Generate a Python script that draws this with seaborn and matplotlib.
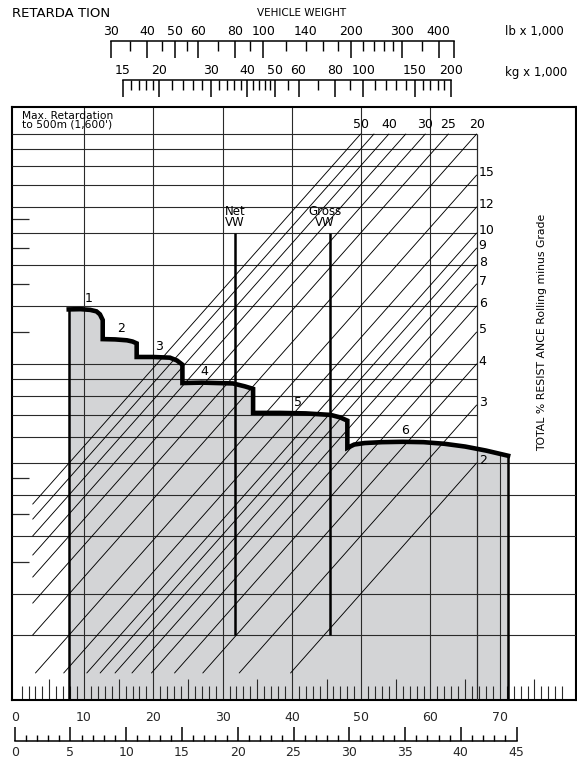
import numpy as np
import pandas as pd
import matplotlib
matplotlib.use("Agg")
import matplotlib.pyplot as plt
from matplotlib.ticker import FixedLocator, NullLocator, NullFormatter
import seaborn as sns

# ------------------------------------------------------------------ data
# retarder curve, one array pair per gear: speed (km/h) and retarding force (chart units)
gear1_speed = [7.8, 9.5, 10.9, 11.8, 12.3, 12.7]
gear1_force = [29.3, 29.35, 29.2, 28.9, 28.3, 27.2]
gear2_speed = [12.7, 14.5, 16.2, 17.0, 17.6]
gear2_force = [23.8, 23.75, 23.6, 23.4, 23.1]
gear3_speed = [17.6, 20.0, 22.4, 23.4, 24.2]
gear3_force = [21.0, 21.0, 20.9, 20.5, 19.9]
gear4_speed = [24.2, 27.0, 31.5, 33.2, 34.4]
gear4_force = [17.5, 17.55, 17.45, 17.1, 16.8]
gear5_speed = [34.4, 38.3, 42.0, 45.6, 47.0, 48.0]
gear5_force = [14.2, 14.2, 14.15, 14.0, 13.75, 13.45]
gear6_speed = [48.0, 49.0, 50.5, 53.0, 56.0, 59.0, 62.0, 65.0, 68.0, 71.2]
gear6_force = [11.12, 11.38, 11.50, 11.57, 11.60, 11.57, 11.44, 11.22, 10.91, 10.52]
gear_labels = ["1", "2", "3", "4", "5", "6"]
gear_label_speed = [10.6, 15.3, 20.8, 27.3, 40.9, 56.3]

# total resistance (%) diagonals and their printed labels
grade_pct = [50, 45, 40, 35, 30, 25, 20, 15, 12, 10, 9, 8, 7, 6, 5, 4, 3, 2]
grade_text = ["50", "", "40", "", "30", "25", "20", "15", "12", "10",
              "9", "8", "7", "6", "5", "4", "3", "2"]

# horizontal force grid
force_lines_panel = [100, 90, 80, 70, 60, 50, 40, 30, 20, 18, 16, 14, 12]
force_lines_full = [10, 8, 6, 4, 3]
force_ticks_left = [55, 45, 35, 25, 9, 7, 5]

# speed scales
speed_grid = [10, 20, 30, 40, 50, 60]
speed_grid_shaded = [70]
kmh_labels = [0, 10, 20, 30, 40, 50, 60, 70]
kmh_ticks_long = [5, 15, 25, 35, 45, 55, 65, 75]
kmh_ticks_short = [v for v in range(1, 81) if v % 5 != 0]
mph_major = [0, 5, 10, 15, 20, 25, 30, 35, 40, 45]
mph_minor = [v for v in range(0, 46) if v % 5 != 0]

# vehicle weight scales
lb_long = [30, 40, 50, 60, 80, 100, 200, 300, 400, 450]
lb_short = [35, 45, 55, 70, 90, 120, 140, 160, 180, 220, 240, 260, 280, 350]
lb_labels = [30, 40, 50, 60, 80, 100, 140, 200, 300, 400]
kg_long = [15, 20, 30, 40, 50, 60, 80, 100, 150, 200]
kg_short = [16, 17, 18, 19, 22, 24, 26, 28, 32, 34, 36, 38, 42, 44, 46, 48,
            55, 70, 90, 110, 120, 130, 140, 160, 170, 180, 190]
kg_labels = [15, 20, 30, 40, 50, 60, 80, 100, 150, 200]

# example vehicle weights (lb x 1,000)
vw_names = ["Net\nVW", "Gross\nVW"]
vw_weight = [80, 170]
vw_force_range = [3, 50]

# ------------------------------------------------------------------ style
sns.set_theme(style="white")
plt.rcParams["font.family"] = ["Liberation Sans Narrow", "DejaVu Sans"]
INK = "black"
GRID = "#2a2a2a"
SHADE = "#d3d4d6"

W_PX, H_PX = 577, 764
fig = plt.figure(figsize=(W_PX / 100, H_PX / 100), dpi=100)
fig.patch.set_facecolor("white")


def rect(x0, y0, x1, y1):
    return [x0 / W_PX, 1 - y1 / H_PX, (x1 - x0) / W_PX, (y1 - y0) / H_PX]


# calibration of the printed scales on the sheet
KMH_X0, KMH_PX = 14.7, 6.93
LB_X30, LB_DEC = 110.7, 291.5
F_Y100, F_DEC = 134.0, 329.0
LB_PER_KG = 2.20462
KMH_PER_MPH = 1.609344
BOX = (12, 107, 576, 700)
GRADE_W_LEFT, GRADE_W_RIGHT = 16.2, 540.0
GRADE_F_BOTTOM, GRADE_F_TOP = 2.3, 100.0
GRADE_CORNER = 20.0


def speed_of(x):
    return (x - KMH_X0) / KMH_PX


def x_of_speed(v):
    return KMH_X0 + KMH_PX * v


def lb_of(x):
    return 30 * 10 ** ((x - LB_X30) / LB_DEC)


def x_of_lb(w):
    return LB_X30 + LB_DEC * np.log10(w / 30)


def force_of(y):
    return 100 * 10 ** (-(y - F_Y100) / F_DEC)


y_lo, y_hi = force_of(BOX[3]), force_of(BOX[1])
x_lo, x_hi = speed_of(BOX[0]), speed_of(BOX[2])
w_lo, w_hi = lb_of(BOX[0]), lb_of(BOX[2])

curve = pd.concat(
    [pd.DataFrame({"speed": s, "force": f, "gear": g}) for s, f, g in zip(
        [gear1_speed, gear2_speed, gear3_speed, gear4_speed, gear5_speed, gear6_speed],
        [gear1_force, gear2_force, gear3_force, gear4_force, gear5_force, gear6_force],
        gear_labels)],
    ignore_index=True)

# ------------------------------------------------------------------ base axes (speed)
ax = fig.add_axes(rect(*BOX))
ax.set_zorder(0)
ax.set_facecolor("white")
ax.set_yscale("log")
ax.fill_between(curve["speed"], y_lo, curve["force"], color=SHADE, lw=0, zorder=0.5)
ax.vlines(speed_grid, y_lo, y_hi, colors=GRID, lw=0.8, zorder=1)
ax.vlines(speed_grid_shaded, y_lo,
          np.interp(speed_grid_shaded, curve["speed"], curve["force"]),
          colors=GRID, lw=0.8, zorder=1)

ax.xaxis.set_major_locator(FixedLocator(kmh_ticks_long))
ax.xaxis.set_minor_locator(FixedLocator(kmh_ticks_short))
ax.xaxis.set_major_formatter(NullFormatter())
ax.xaxis.set_minor_formatter(NullFormatter())
ax.tick_params(axis="x", which="major", direction="in", length=15, width=0.8,
               color=GRID, bottom=True, top=False, labelbottom=False)
ax.tick_params(axis="x", which="minor", direction="in", length=10, width=0.8,
               color=GRID, bottom=True, top=False)
ax.yaxis.set_major_locator(FixedLocator(force_ticks_left))
ax.yaxis.set_minor_locator(NullLocator())
ax.yaxis.set_major_formatter(NullFormatter())
ax.tick_params(axis="y", which="major", direction="in", length=12.5, width=0.9,
               color=GRID, left=True, right=False, labelleft=False)
for sp in ax.spines.values():
    sp.set_visible(True)
    sp.set_linewidth(1.5)
    sp.set_color(INK)

sec = ax.secondary_xaxis("bottom")
sec.set_xticks(kmh_labels)
sec.set_xticklabels([str(v) for v in kmh_labels])
sec.tick_params(length=0, pad=8.0, labelsize=9, bottom=True)
sec.spines["bottom"].set_visible(False)

ax.text((22 - BOX[0]) / (BOX[2] - BOX[0]), 1 - (111 - BOX[1]) / (BOX[3] - BOX[1]),
        "Max. Retardation\nto 500m (1,600')", transform=ax.transAxes,
        ha="left", va="top", fontsize=7.7, linespacing=0.8, color=INK)
ax.text((542 - BOX[0]) / (BOX[2] - BOX[0]), 1 - (332 - BOX[1]) / (BOX[3] - BOX[1]),
        "TOTAL % RESIST ANCE Rolling minus Grade", transform=ax.transAxes,
        rotation=90, ha="center", va="center", fontsize=7.8, color=INK)

# ------------------------------------------------------------------ weight / grade overlay
axd = fig.add_axes(rect(*BOX), sharey=ax)
axd.set_zorder(1)
axd.patch.set_visible(False)
axd.set_xscale("log")
axd.axis("off")

axd.hlines(force_lines_panel, w_lo, GRADE_W_RIGHT, colors=GRID, lw=0.8)
axd.hlines(force_lines_full, w_lo, w_hi, colors=GRID, lw=0.8)
axd.vlines([GRADE_W_RIGHT], y_lo, GRADE_F_TOP, colors=GRID, lw=0.9)


def grade_force(w, r):
    return GRADE_F_TOP * (w / GRADE_W_RIGHT) * (r / GRADE_CORNER)


for r, txt in zip(grade_pct, grade_text):
    w_a = max(GRADE_W_LEFT, GRADE_W_RIGHT * (GRADE_F_BOTTOM / GRADE_F_TOP) * (GRADE_CORNER / r))
    w_b = min(GRADE_W_RIGHT, GRADE_W_RIGHT * (GRADE_CORNER / r))
    axd.plot([w_a, w_b], [grade_force(w_a, r), grade_force(w_b, r)], color=INK, lw=0.65)
    if not txt:
        continue
    if r < GRADE_CORNER:
        axd.annotate(txt, (w_b, grade_force(w_b, r)), xytext=(1.5, 2), textcoords="offset points",
                     ha="left", va="center", fontsize=9, color=INK)
    else:
        axd.annotate(txt, (w_b, GRADE_F_TOP), xytext=(0, 2), textcoords="offset points",
                     ha="center", va="bottom", fontsize=9, color=INK)

for name, w, dx in zip(vw_names, vw_weight, [0, -4]):
    axd.vlines([w], vw_force_range[0], vw_force_range[1], colors=INK, lw=1.8)
    axd.annotate(name, (w, vw_force_range[1]), xytext=(dx, 3), textcoords="offset points",
                 ha="center", va="bottom", fontsize=8.5, linespacing=0.8, color=INK)

# ------------------------------------------------------------------ curve overlay
axc = fig.add_axes(rect(*BOX), sharex=ax, sharey=ax)
axc.set_zorder(2)
axc.patch.set_visible(False)
sns.lineplot(data=curve, x="speed", y="force", sort=False, estimator=None,
             color=INK, lw=3.3, ax=axc, legend=False)
for ln in axc.lines:
    ln.set_solid_joinstyle("miter")
    ln.set_solid_capstyle("projecting")
v0, v1 = curve["speed"].iloc[0], curve["speed"].iloc[-1]
f0, f1 = curve["force"].iloc[0], curve["force"].iloc[-1]
axc.vlines([v0], y_lo, f0, colors=INK, lw=1.8)
axc.vlines([v1], y_lo, f1, colors=INK, lw=1.8)
for g, s in zip(gear_labels, gear_label_speed):
    axc.annotate(g, (s, np.interp(s, curve["speed"], curve["force"])), xytext=(0, 8),
                 textcoords="offset points", ha="center", va="center", fontsize=9, color=INK)
axc.axis("off")

ax.set_xlim(x_lo, x_hi)
ax.set_ylim(y_lo, y_hi)
axd.set_xlim(w_lo, w_hi)

# ------------------------------------------------------------------ rulers
def top_ruler(a, lo, hi, long_t, short_t, labels):
    a.set_xscale("log")
    a.set_xlim(lo, hi)
    a.set_ylim(0, 1)
    a.patch.set_visible(False)
    for k, sp in a.spines.items():
        sp.set_visible(k == "top")
    a.spines["top"].set_linewidth(1.1)
    a.spines["top"].set_color(INK)
    a.xaxis.set_ticks_position("top")
    a.xaxis.set_major_locator(FixedLocator(long_t))
    a.xaxis.set_minor_locator(FixedLocator(short_t))
    a.xaxis.set_major_formatter(NullFormatter())
    a.xaxis.set_minor_formatter(NullFormatter())
    a.tick_params(axis="x", which="major", direction="in", length=12, width=1.1,
                  color=INK, top=True, bottom=False, labeltop=False, labelbottom=False)
    a.tick_params(axis="x", which="minor", direction="in", length=7, width=1.0,
                  color=INK, top=True, bottom=False)
    a.set_yticks([])
    for v in labels:
        a.annotate(str(v), (v, 1), xycoords=a.get_xaxis_transform(), xytext=(0, 2.5),
                   textcoords="offset points", ha="center", va="bottom", fontsize=9, color=INK)


ax_lb = fig.add_axes(rect(x_of_lb(30), 41, x_of_lb(450), 59))
top_ruler(ax_lb, 30, 450, lb_long, lb_short, lb_labels)
ax_kg = fig.add_axes(rect(x_of_lb(15 * LB_PER_KG), 80, x_of_lb(200 * LB_PER_KG), 98))
top_ruler(ax_kg, 15, 200, kg_long, kg_short, kg_labels)

ax_mph = fig.add_axes(rect(x_of_speed(0), 726, x_of_speed(45 * KMH_PER_MPH), 740.5))
ax_mph.set_xlim(0, 45)
ax_mph.set_ylim(0, 1)
ax_mph.patch.set_visible(False)
for k, sp in ax_mph.spines.items():
    sp.set_visible(k == "bottom")
ax_mph.spines["bottom"].set_linewidth(1.1)
ax_mph.spines["bottom"].set_color(INK)
ax_mph.xaxis.set_major_locator(FixedLocator(mph_major))
ax_mph.xaxis.set_minor_locator(FixedLocator(mph_minor))
ax_mph.set_xticklabels([str(v) for v in mph_major])
ax_mph.tick_params(axis="x", which="major", direction="in", length=10, width=1.1, color=INK,
                   bottom=True, top=False, labelbottom=True, labelsize=9, pad=4)
ax_mph.tick_params(axis="x", which="minor", direction="in", length=4, width=1.0, color=INK,
                   bottom=True, top=False)
ax_mph.set_yticks([])

# ------------------------------------------------------------------ titles
fig.text(12 / W_PX, 1 - 13.5 / H_PX, "RETARDA TION", ha="left", va="center", fontsize=9.5, color=INK)
fig.text(302 / W_PX, 1 - 12.7 / H_PX, "VEHICLE WEIGHT", ha="center", va="center", fontsize=7.5, color=INK)
fig.text(505 / W_PX, 1 - 31.7 / H_PX, "lb x 1,000", ha="left", va="center", fontsize=8.5, color=INK)
fig.text(505 / W_PX, 1 - 72.5 / H_PX, "kg x 1,000", ha="left", va="center", fontsize=8.5, color=INK)

fig.savefig("out.png", dpi=100, facecolor="white")
